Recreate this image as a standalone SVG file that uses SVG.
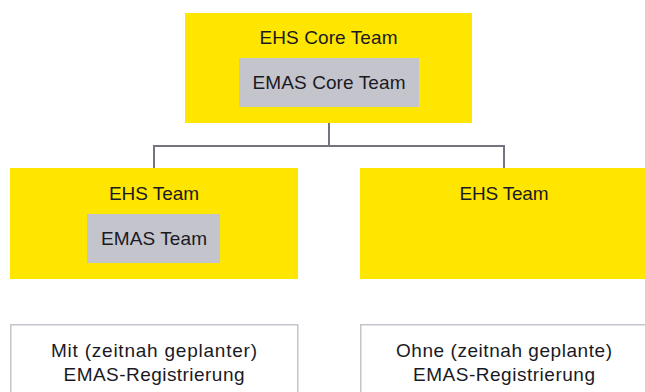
<svg xmlns="http://www.w3.org/2000/svg" width="645" height="392" viewBox="0 0 645 392">
<style>
.y{fill:#FFE600}
.g{fill:#C4C4CD}
.w{fill:#FFFFFF;stroke:#C4C4CD;stroke-width:1.5}
.c{fill:none;stroke:#747480;stroke-width:2}
text{font-family:"Liberation Sans",Arial,sans-serif;font-size:19px;fill:#1A1A24;text-anchor:middle}
</style>
<rect width="645" height="392" fill="#FFFFFF"/>
<g id="connectors">
<path class="c" d="M329 123V146M154 168V146H504V168"/>
</g>
<g id="ehs-core-team">
<rect class="y" x="185" y="13" width="287" height="110"/>
<text x="328.5" y="44" textLength="138" lengthAdjust="spacing">EHS Core Team</text>
</g>
<g id="emas-core-team">
<rect class="g" x="239" y="58" width="180" height="49"/>
<text x="329" y="89" textLength="153" lengthAdjust="spacing">EMAS Core Team</text>
</g>
<g id="ehs-team-left">
<rect class="y" x="10" y="168" width="288" height="111"/>
<text x="154" y="200" textLength="90" lengthAdjust="spacing">EHS Team</text>
</g>
<g id="emas-team">
<rect class="g" x="87" y="214" width="133" height="49"/>
<text x="154" y="245" textLength="106" lengthAdjust="spacing">EMAS Team</text>
</g>
<g id="ehs-team-right">
<rect class="y" x="360" y="168" width="290" height="111"/>
<text x="504" y="200" textLength="89" lengthAdjust="spacing">EHS Team</text>
</g>
<g id="mit-emas">
<rect class="w" x="10.75" y="324.75" width="287" height="80"/>
<text x="154" y="357" textLength="206" lengthAdjust="spacing">Mit (zeitnah geplanter)</text>
<text x="154" y="380.5" textLength="181" lengthAdjust="spacing">EMAS-Registrierung</text>
</g>
<g id="ohne-emas">
<rect class="w" x="360.75" y="324.75" width="300" height="80"/>
<text x="504" y="357" textLength="216" lengthAdjust="spacing">Ohne (zeitnah geplante)</text>
<text x="504" y="380.5" textLength="182" lengthAdjust="spacing">EMAS-Registrierung</text>
</g>
</svg>
